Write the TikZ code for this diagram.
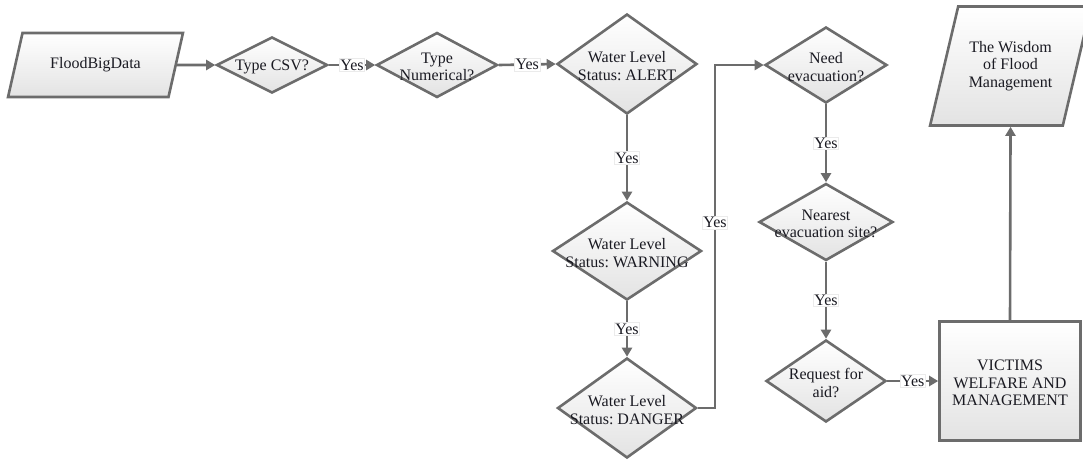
\documentclass[tikz,border=0pt]{standalone}
\usepackage{fontspec}
\setmainfont{Liberation Serif}
\usepackage{xcolor}
\usetikzlibrary{shapes.geometric,arrows.meta}
\definecolor{linegray}{HTML}{6C6C6C}
\definecolor{textdark}{HTML}{1A1A22}
\newcommand\flowfont{\fontsize{16}{17.5}\selectfont\frenchspacing}
\tikzset{
  box/.style={draw=linegray, line width=2.6pt, top color=white, bottom color=black!11, inner sep=1pt},
  decision/.style={box, diamond},
  io/.style={box, trapezium, trapezium stretches=true, font=\flowfont, text=textdark, align=center},
  process/.style={box, rectangle},
  txt/.style={font=\flowfont, text=textdark, align=center, inner sep=0pt, yshift=-2pt},
  flow/.style={draw=linegray, line width=2.6pt, -{Triangle[length=9pt,width=10pt]}},
  yes/.style={font=\flowfont, text=textdark, fill=white, draw=black!8, line width=0.4pt, inner sep=1pt}
}
\begin{document}
\begin{tikzpicture}[x=1pt,y=-1pt]
\useasboundingbox (0,0) rectangle (1083,459);
\node [io, trapezium left angle=61, trapezium right angle=119, minimum width=175pt, minimum height=64pt] (flood) at (95.5,65) {FloodBigData};
\node [decision, minimum width=111pt, minimum height=56pt, label={[txt]center:Type CSV?}] (csv) at (272,65) {};
\node [decision, minimum width=121pt, minimum height=65pt, label={[txt]center:{Type\\Numerical?}}] (numerical) at (437,65) {};
\node [decision, minimum width=140pt, minimum height=100pt, label={[txt]center:{Water Level\\Status: ALERT}}] (alert) at (627,64) {};
\node [decision, minimum width=149pt, minimum height=98pt, label={[txt]center:{Water Level\\Status: WARNING}}] (warning) at (627,251) {};
\node [decision, minimum width=139pt, minimum height=100pt, label={[txt]center:{Water Level\\Status: DANGER}}] (danger) at (627,408) {};
\node [decision, minimum width=122pt, minimum height=76pt, label={[txt]center:{Need\\evacuation?}}] (evacuation) at (826,65) {};
\node [decision, minimum width=134pt, minimum height=77pt, label={[txt]center:{Nearest\\evacuation site?}}] (nearest) at (826,222) {};
\node [decision, minimum width=120pt, minimum height=82pt, label={[txt]center:{Request for\\aid?}}] (request) at (826,381) {};
\node [process, minimum width=141pt, minimum height=119pt, label={[txt]center:{VICTIMS\\WELFARE AND\\MANAGEMENT}}] (victims) at (1010,381) {};
\node [io, trapezium left angle=66, trapezium right angle=114, minimum width=161pt, minimum height=119pt] (wisdom) at (1010.5,66) {The Wisdom\\of Flood\\Management};
\coordinate (elbow) at (715,408);
\draw [flow] (flood.east) -- (csv.west);
\draw [flow] (csv.east) -- node [yes] {Yes} (numerical.west);
\draw [flow] (numerical.east) -- node [yes] {Yes} (alert.west);
\draw [flow] (alert.south) -- node [yes] {Yes} (warning.north);
\draw [flow] (warning.south) -- node [yes] {Yes} (danger.north);
\draw [flow] (danger.east) -- (elbow) |- node [yes, pos=0.27] {Yes} (evacuation.west);
\draw [flow] (evacuation.south) -- node [yes] {Yes} (nearest.north);
\draw [flow] (nearest.south) -- node [yes] {Yes} (request.north);
\draw [flow] (request.east) -- node [yes] {Yes} (victims.west);
\draw [flow] (victims.north) -- (wisdom.south);
\end{tikzpicture}
\end{document}
